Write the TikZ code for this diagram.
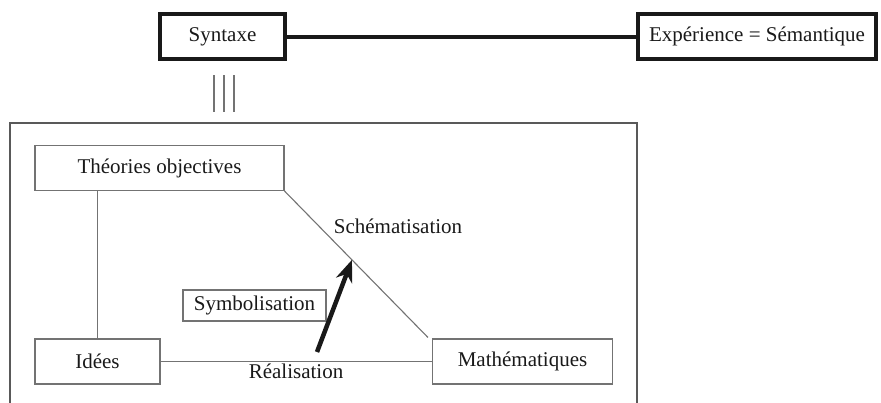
\documentclass[tikz,border=0pt]{standalone}
\usepackage{fontspec}
\setmainfont{Liberation Serif}
\usetikzlibrary{arrows.meta,calc}
\begin{document}
\begin{tikzpicture}[x=1pt,y=-1pt,
  every node/.style={font=\fontsize{21}{25}\selectfont, text=black!90},
  bigbox/.style={draw=black!90, line width=4.5pt, rectangle, inner sep=0pt},
  thinbox/.style={draw=black!55, line width=1.1pt, rectangle, inner sep=0pt},
  thin/.style={draw=black!55, line width=1.1pt},
  thick/.style={draw=black!90, line width=4pt},
  lbl/.style={inner sep=0pt}]
\useasboundingbox (0,0) rectangle (881,402);
% top row
\node[bigbox, minimum width=125pt, minimum height=45pt] (syn) at (222.5,36.5) {Syntaxe};
\node[bigbox, minimum width=238pt, minimum height=45pt] (exp) at (757,36.5) {Expérience = Sémantique};
\draw[thick] (syn.east) -- (exp.west);
% triple lines
\coordinate (t1a) at (214,75); \coordinate (t1b) at (214,112);
\coordinate (t2a) at (224,75); \coordinate (t2b) at (224,112);
\coordinate (t3a) at (234,75); \coordinate (t3b) at (234,112);
\draw[thin] (t1a) -- (t1b);
\draw[thin] (t2a) -- (t2b);
\draw[thin] (t3a) -- (t3b);
% frame
\draw[thin, draw=black!65] (10,123) rectangle (637,420);
% inner nodes
\node[thinbox, minimum width=249pt, minimum height=45pt] (theo) at (159.5,168) {Théories objectives};
\node[thinbox, minimum width=125pt, minimum height=45pt] (idees) at (97.5,361.5) {Idées};
\node[thinbox, minimum width=180pt, minimum height=45pt] (math) at (522.5,361.5) {Mathématiques};
\node[thinbox, minimum width=143pt, minimum height=31pt] (sym) at (254.5,305.5) {Symbolisation};
% connectors
\draw[thin] (idees.north) -- (idees.north |- theo.south);
\draw[thin] (idees.east) -- (math.west);
\draw[thin] (theo.south east) -- ($(math.north west)+(-4,-1)$);
\path (theo.south east) -- ($(math.north west)+(-4,-1)$) coordinate[pos=0.47] (tip);
\coordinate (tail) at (317,352);
\draw[thick, line width=4.5pt, -{Stealth[length=22pt,width=17pt,inset=7pt]}] (tail) -- (tip);
% labels
\node[lbl] (schem) at (398,226) {Schématisation};
\node[lbl] (real) at (296,371) {Réalisation};
\end{tikzpicture}
\end{document}
